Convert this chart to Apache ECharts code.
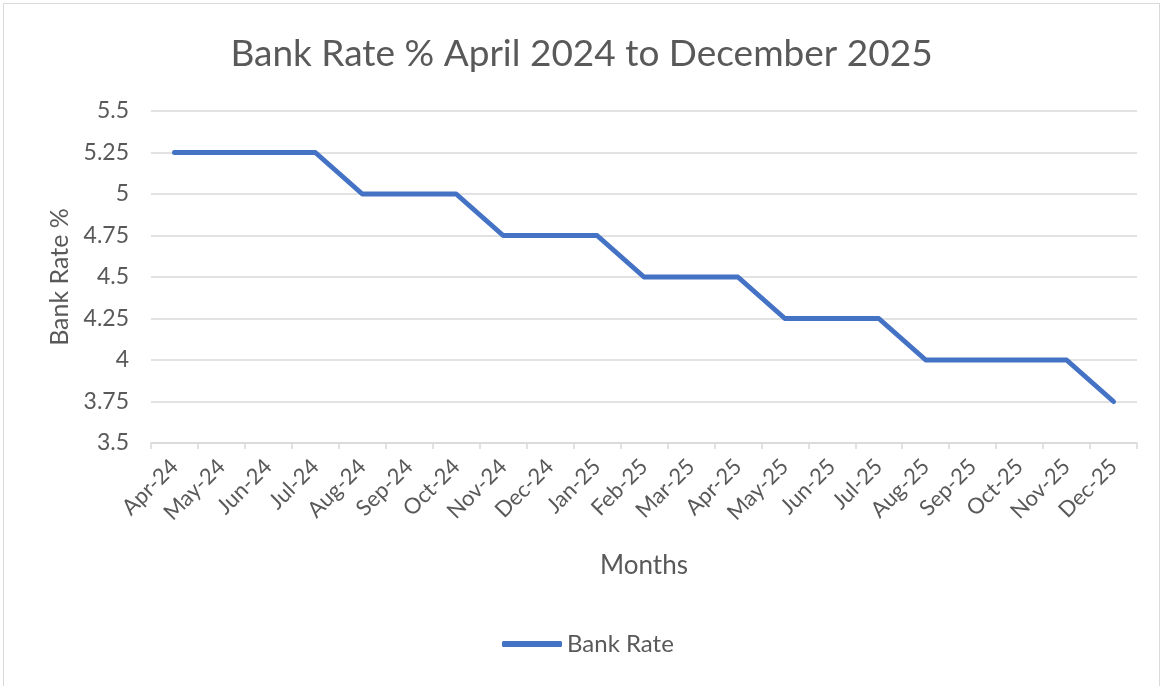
<!DOCTYPE html>
<html>
<head>
<meta charset="utf-8">
<script src="https://cdn.jsdelivr.net/npm/echarts@6/dist/echarts.min.js"></script>
<style>
    html, body { margin: 0; padding: 0; background: #fff; }
    #rate_chart { position: absolute; left: 3px; top: 3px; width: 1157px; height: 690px; border: 1px solid #d9d9d9; box-sizing: border-box; }
</style>
</head>
<body>
<div id="rate_chart"></div>
<script>
var months = ['Apr-24', 'May-24', 'Jun-24', 'Jul-24', 'Aug-24', 'Sep-24', 'Oct-24', 'Nov-24', 'Dec-24', 'Jan-25',
    'Feb-25', 'Mar-25', 'Apr-25', 'May-25', 'Jun-25', 'Jul-25', 'Aug-25', 'Sep-25', 'Oct-25', 'Nov-25', 'Dec-25'];
var bankRate = [5.25, 5.25, 5.25, 5.25, 5, 5, 5, 4.75, 4.75, 4.75,
    4.5, 4.5, 4.5, 4.25, 4.25, 4.25, 4, 4, 4, 4, 3.75];

var rate_chart = echarts.init(document.getElementById('rate_chart'));
var fontName = 'Lato';
var textColor = '#595959';

var option = {
    backgroundColor: '#fff',
    title: {
        text: 'Bank Rate % April 2024 to December 2025',
        left: 'center',
        top: 27,
        textStyle: { fontFamily: fontName, fontSize: 37, fontWeight: 'normal', color: textColor }
    },
    legend: {
        bottom: 31,
        left: 493,
        itemWidth: 60,
        itemHeight: 6,
        itemGap: 6,
        textStyle: { fontFamily: fontName, fontSize: 24, color: textColor },
        data: [{ name: 'Bank Rate', icon: 'roundRect' }]
    },
    grid: { left: 147, right: 22, top: 107, bottom: 249 },
    xAxis: {
        type: 'category',
        data: months,
        boundaryGap: true,
        name: 'Months',
        nameLocation: 'middle',
        nameGap: 110,
        nameTextStyle: { fontFamily: fontName, fontSize: 26, color: textColor },
        axisLine: { lineStyle: { color: '#d9d9d9', width: 1.5 } },
        axisTick: { show: true, length: 6, lineStyle: { color: '#d9d9d9', width: 1.5 } },
        axisLabel: { rotate: 45, margin: 20, fontFamily: fontName, fontSize: 22, color: textColor, interval: 0 }
    },
    yAxis: {
        type: 'value',
        min: 3.5,
        max: 5.5,
        interval: 0.25,
        name: 'Bank Rate %',
        nameLocation: 'middle',
        nameGap: 79,
        nameTextStyle: { fontFamily: fontName, fontSize: 25, color: textColor },
        axisLine: { show: false },
        axisTick: { show: false },
        axisLabel: { margin: 22, fontFamily: fontName, fontSize: 23, color: textColor },
        splitLine: { lineStyle: { color: '#d9d9d9', width: 1.5 } }
    },
    series: [
        {
            name: 'Bank Rate',
            type: 'line',
            data: bankRate,
            symbol: 'none',
            lineStyle: { color: '#4472c4', width: 5, cap: 'round', join: 'round' },
            itemStyle: { color: '#4472c4' }
        }
    ]
};

rate_chart.setOption(option);
</script>
</body>
</html>
